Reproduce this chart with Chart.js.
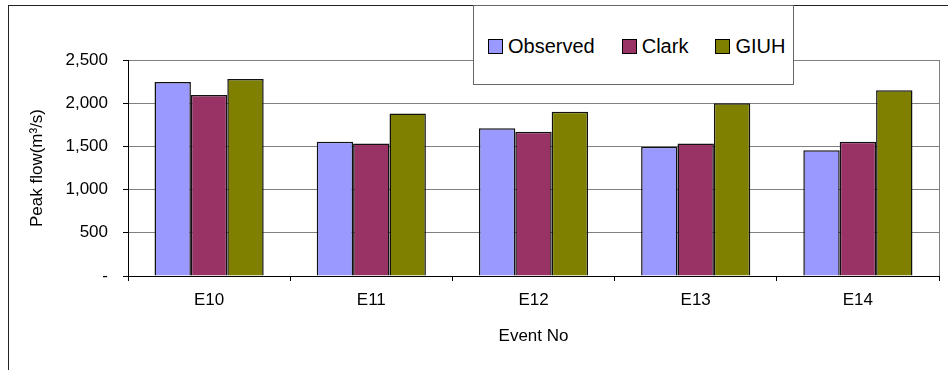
<!DOCTYPE html>
<html>
<head>
<meta charset="utf-8">
<script src="https://cdn.jsdelivr.net/npm/chart.js@4.4.0/dist/chart.umd.min.js"></script>
<style>
  body { margin: 0; background: #fff; }
  #wrap { position: relative; width: 948px; height: 370px; overflow: hidden; }
  #frame { position: absolute; left: 8px; top: 5px; right: -5px; bottom: -5px;
           border-top: 1px solid #222; border-left: 1px solid #222; pointer-events: none; }
  #legend { position: absolute; left: 473px; top: 5px; width: 321px; height: 80px;
            background: #fff; border: 1px solid #666; box-sizing: border-box;
            font-family: "Liberation Sans", Arial, sans-serif; font-size: 20px; color: #000; }
  #legend .items { position: absolute; left: 14px; top: 29px; display: flex; align-items: center; }
  #legend .item { display: flex; align-items: center; margin-right: 27px; }
  #legend .sw { width: 13px; height: 13px; border: 1px solid #000; margin-right: 5px; }
</style>
</head>
<body>
<div id="wrap">
  <canvas id="chart" width="948" height="370"></canvas>
  <div id="frame"></div>
  <div id="legend"><div class="items" id="legendItems"></div></div>
</div>
<script>
const categories = ["E10", "E11", "E12", "E13", "E14"];
const observed = [2245, 1555, 1710, 1495, 1455];
const clark    = [2095, 1535, 1670, 1535, 1555];
const giuh     = [2280, 1880, 1900, 2000, 2150];
const yTicks   = [0, 500, 1000, 1500, 2000, 2500];

const font = "'Liberation Sans', Arial, sans-serif";

// right border of the plot area
const plotBorder = {
    id: 'plotBorder',
    afterDraw(chart) {
        const a = chart.chartArea, c = chart.ctx;
        c.save();
        c.strokeStyle = '#808080';
        c.lineWidth = 1;
        c.beginPath();
        c.moveTo(a.right + 0.5, a.top);
        c.lineTo(a.right + 0.5, a.bottom);
        c.stroke();
        c.restore();
    }
};

const ctx = document.getElementById('chart').getContext('2d');
const chart = new Chart(ctx, {
    type: 'bar',
    data: {
        labels: categories,
        datasets: [
            { label: 'Observed', data: observed, backgroundColor: '#9999FF' },
            { label: 'Clark', data: clark, backgroundColor: '#993366' },
            { label: 'GIUH', data: giuh, backgroundColor: '#808000' },
        ]
    },
    options: {
        responsive: false,
        animation: false,
        layout: { padding: { left: 0, top: 60, right: 9, bottom: 0 } },
        datasets: {
            bar: { borderColor: '#111', borderWidth: 1.5, categoryPercentage: 0.673, barPercentage: 1 }
        },
        plugins: { legend: { display: false }, tooltip: { enabled: false } },
        scales: {
            x: {
                grid: { drawOnChartArea: false, offset: true, tickLength: 5, color: '#000' },
                border: { color: '#000', width: 1 },
                ticks: { color: '#000', font: { family: font, size: 17 }, padding: 9 },
                title: { display: true, text: 'Event No', color: '#000',
                         font: { family: font, size: 17 }, padding: { top: 0, bottom: 23 } },
                afterFit(s) { s.height = 94; }
            },
            y: {
                min: 0, max: 2500,
                afterBuildTicks(s) { s.ticks = yTicks.map(v => ({ value: v })); },
                grid: { color: '#808080', lineWidth: 1, tickLength: 5, tickColor: '#000' },
                border: { color: '#000', width: 1 },
                ticks: {
                    color: '#000', font: { family: font, size: 17 }, padding: 15,
                    callback: v => v === 0 ? '-' : v.toLocaleString('en-US')
                },
                title: { display: true, text: 'Peak flow(m³/s)', color: '#000',
                         font: { family: font, size: 17 }, padding: { top: 27, bottom: 0 } },
                afterFit(s) { s.width = 128; }
            }
        }
    },
    plugins: [plotBorder]
});

// legend built from the chart's datasets
const box = document.getElementById('legendItems');
chart.data.datasets.forEach(ds => {
    const it = document.createElement('div');
    it.className = 'item';
    const sw = document.createElement('div');
    sw.className = 'sw';
    sw.style.background = ds.backgroundColor;
    const tx = document.createElement('span');
    tx.textContent = ds.label;
    it.appendChild(sw);
    it.appendChild(tx);
    box.appendChild(it);
});
</script>
</body>
</html>
